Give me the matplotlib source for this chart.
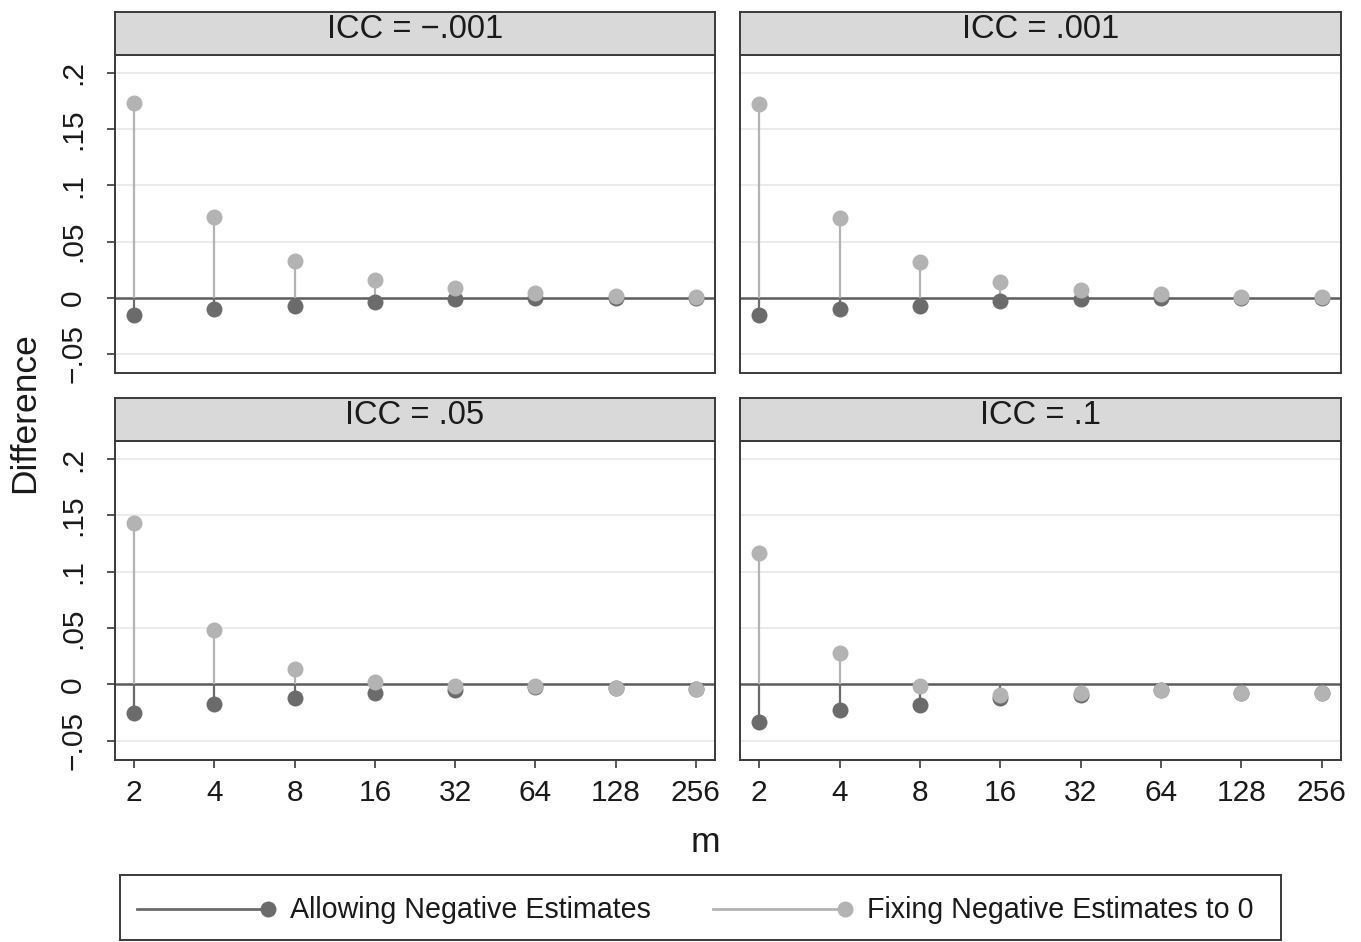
import matplotlib.pyplot as plt
import numpy as np

plt.rcParams['font.family'] = ['Liberation Sans', 'DejaVu Sans']

# m values (categorical on the x axis)
m_labels = ["2", "4", "8", "16", "32", "64", "128", "256"]
panel_titles = ["ICC = \u2212.001", "ICC = .001", "ICC = .05", "ICC = .1"]

# difference values, one list per panel
allow_neg = [
    [-0.015, -0.010, -0.007, -0.004, -0.0015, -0.0005, 0.0, 0.0],
    [-0.015, -0.010, -0.007, -0.003, -0.001, 0.0, 0.0, 0.0],
    [-0.025, -0.017, -0.012, -0.0075, -0.0045, -0.002, -0.003, -0.0036],
    [-0.0335, -0.023, -0.018, -0.012, -0.009, -0.005, -0.0075, -0.008],
]
fix_zero = [
    [0.173, 0.072, 0.033, 0.0155, 0.0085, 0.0042, 0.0015, 0.0005],
    [0.172, 0.0705, 0.032, 0.014, 0.007, 0.0035, 0.001, 0.0005],
    [0.1435, 0.048, 0.0134, 0.002, -0.0015, -0.0015, -0.003, -0.0036],
    [0.1165, 0.0277, -0.001, -0.009, -0.008, -0.0045, -0.0074, -0.008],
]

yticks = [-0.05, 0, 0.05, 0.1, 0.15, 0.2]
ytick_labels = ["\u2212.05", "0", ".05", ".1", ".15", ".2"]

dark = "#6b6b6b"
light = "#b3b3b3"
zero_col = "#5c5c5c"
frame_col = "#3a3a3a"

W, H = 1361, 942
fig = plt.figure(figsize=(W / 100, H / 100), dpi=100)

# panel geometry in pixels: (left, right, strip top, plot top, plot bottom)
cols = [(115, 715), (740, 1341)]
rows = [(12, 55, 373), (398, 441, 760)]

x = np.arange(len(m_labels))
for i in range(4):
    r, c = divmod(i, 2)
    l, rr = cols[c]
    st, pt, pb = rows[r]
    ax = fig.add_axes([l / W, 1 - pb / H, (rr - l) / W, (pb - pt) / H])
    sax = fig.add_axes([l / W, 1 - pt / H, (rr - l) / W, (pt - st) / H])
    sax.set_facecolor("#d9d9d9")
    sax.set_xticks([])
    sax.set_yticks([])
    for s in sax.spines.values():
        s.set_color(frame_col)
        s.set_linewidth(1.4)
    sax.text(0.5, 0.6, panel_titles[i], ha="center", va="center", fontsize=23.5,
             transform=sax.transAxes, color="#1a1a1a")

    for yt in yticks:
        if yt != 0:
            ax.axhline(yt, color="#ebebeb", lw=1.5, zorder=0)
    ax.axhline(0, color=zero_col, lw=1.8, zorder=1)

    a = allow_neg[i]
    f = fix_zero[i]
    ax.vlines(x, 0, f, color=light, lw=1.6, zorder=2)
    ax.vlines(x, 0, a, color=dark, lw=1.6, zorder=2)
    ax.plot(x, a, "o", color=dark, ms=11.5, mec="none", zorder=3)
    ax.plot(x, f, "o", color=light, ms=11.5, mec="none", zorder=4)

    ax.set_xlim(-0.24, 7.24)
    ax.set_ylim(-0.067, 0.216)
    ax.set_xticks(x)
    ax.set_yticks(yticks)
    for s in ax.spines.values():
        s.set_color(frame_col)
        s.set_linewidth(1.4)
    ax.tick_params(length=6, width=1.2, color=frame_col, labelsize=21.5,
                   labelcolor="#1a1a1a")
    ax.tick_params(axis="x", pad=8)
    ax.tick_params(axis="y", pad=14)
    if r == 1:
        ax.set_xticklabels(m_labels)
    else:
        ax.tick_params(axis="x", bottom=False, labelbottom=False)
    if c == 0:
        ax.set_yticklabels(ytick_labels, rotation=90, va="center")
    else:
        ax.tick_params(axis="y", left=False, labelleft=False)

fig.text(25 / W, 1 - 413 / H, "Difference", rotation=90, ha="center", va="center",
         fontsize=25.5, color="#1a1a1a")
fig.text(705 / W, 1 - 843 / H, "m", ha="center", va="center", fontsize=25.5,
         color="#1a1a1a")

# legend box
lx0, lx1, ly0, ly1 = 120, 1281, 875, 940
lax = fig.add_axes([lx0 / W, 1 - ly1 / H, (lx1 - lx0) / W, (ly1 - ly0) / H])
lax.set_xlim(lx0, lx1)
lax.set_ylim(ly1, ly0)
lax.set_xticks([])
lax.set_yticks([])
for s in lax.spines.values():
    s.set_color(frame_col)
    s.set_linewidth(1.4)
for (x0, x1, col, lab) in [(137, 268, dark, "Allowing Negative Estimates"),
                           (713, 845, light, "Fixing Negative Estimates to 0")]:
    lax.plot([x0, x1], [909, 909], color=col, lw=2)
    lax.plot([x1], [909], "o", color=col, ms=11.5, mec="none")
    lax.text(x1 + 22, 910, lab, ha="left", va="center", fontsize=20.6, color="#1a1a1a")

fig.savefig("out.png", dpi=100)
